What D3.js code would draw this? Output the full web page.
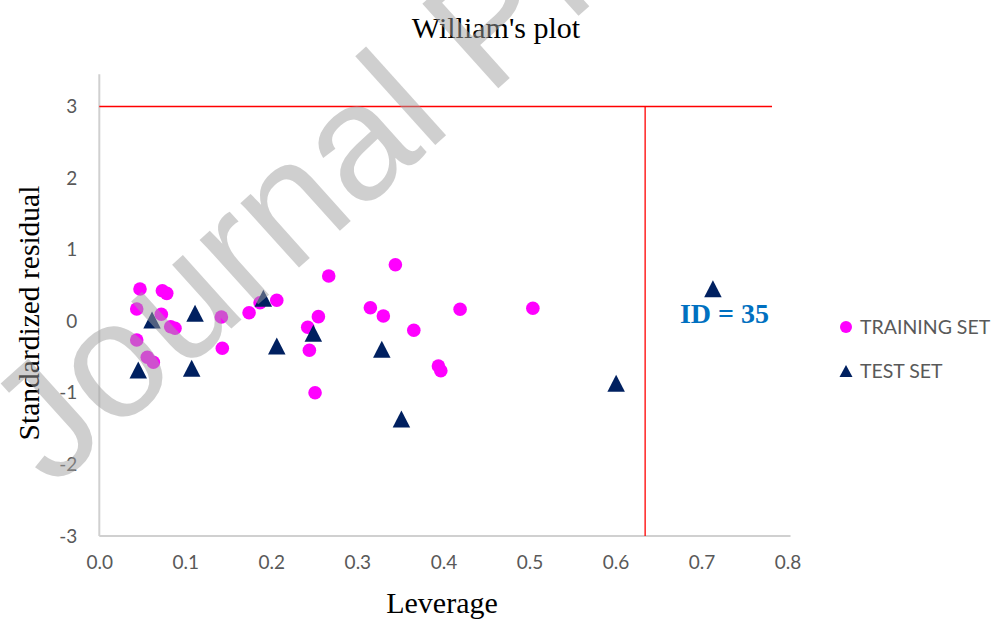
<!DOCTYPE html>
<html>
<head>
<meta charset="utf-8">
<script src="https://cdn.jsdelivr.net/npm/d3@7"></script>
<style>
  html, body { margin: 0; padding: 0; background: #fff; }
  svg { display: block; }
</style>
</head>
<body>
<svg id="chart" width="995" height="625"></svg>
<script>
// Leverage (h) and standardized residual for each compound
const trainLeverage = [0.0435, 0.0473, 0.0733, 0.0784, 0.0721, 0.0830, 0.0880, 0.1419, 0.0435, 0.1430,
                       0.0558, 0.0628, 0.2667, 0.1869, 0.2063, 0.1741, 0.2547, 0.2423, 0.2442, 0.2508,
                       0.3442, 0.3151, 0.3302, 0.3656, 0.3942, 0.3970, 0.4194, 0.5040];
const trainResidual = [0.171, 0.450, 0.427, 0.390, 0.097, -0.076, -0.098, 0.059, -0.262, -0.378,
                       -0.503, -0.573, 0.632, 0.259, 0.293, 0.119, 0.064, -0.084, -0.406, -0.998,
                       0.790, 0.189, 0.073, -0.126, -0.625, -0.691, 0.167, 0.181];
const testLeverage = [0.0613, 0.1113, 0.0453, 0.1074, 0.1907, 0.2488, 0.2063, 0.3284, 0.3512, 0.6008, 0.7133];
const testResidual = [0.017, 0.111, -0.681, -0.657, 0.321, -0.168, -0.346, -0.392, -1.365, -0.867, 0.455];

// Applicability domain limits
const warningLeverage = 0.6345;   // h*
const residualLimit = 3;
const limitLineEnd = 0.782;

const xTicks = [0, 0.1, 0.2, 0.3, 0.4, 0.5, 0.6, 0.7, 0.8];
const yTicks = [-3, -2, -1, 0, 1, 2, 3];
const seriesNames = ["TRAINING SET", "TEST SET"];
const outlierLabel = "ID = 35";
const outlierIndex = 10;

const train = trainLeverage.map((h, i) => ({ h, r: trainResidual[i] }));
const test = testLeverage.map((h, i) => ({ h, r: testResidual[i] }));

const svg = d3.select("#chart");
const serif = "'Liberation Serif', 'Times New Roman', serif";
const sans = "Lato, 'Open Sans', sans-serif";
const tickColor = "#595959";
const axisColor = "#d0d0d0";
const pink = "#ff00ff";
const navy = "#002060";

const x = d3.scaleLinear().domain([0, 0.8]).range([99.3, 787.5]);
const y = d3.scaleLinear().domain([-3, 3]).range([536, 106.5]);

// Title and axis titles
svg.append("text").attr("x", 496).attr("y", 38).attr("text-anchor", "middle")
  .attr("font-family", serif).attr("font-size", 30).attr("fill", "#000").text("William's plot");
svg.append("text").attr("transform", "translate(39,313) rotate(-90)").attr("text-anchor", "middle")
  .attr("font-family", serif).attr("font-size", 29.5).attr("fill", "#000").text("Standardized residual");
svg.append("text").attr("x", 442).attr("y", 613).attr("text-anchor", "middle")
  .attr("font-family", serif).attr("font-size", 30).attr("fill", "#000").text("Leverage");

// Axes (Excel-style labels use a plain hyphen for negatives)
const xAxis = d3.axisBottom(x).tickValues(xTicks).tickFormat(d3.format(".1f")).tickSize(0).tickPadding(20);
const gx = svg.append("g").attr("transform", `translate(0,${y(-3)})`).call(xAxis);
gx.select(".domain").attr("d", `M${x(0)},0H${x(0.8) + 3}`).attr("stroke", axisColor).attr("stroke-width", 2);
gx.selectAll("text").attr("font-family", sans).attr("font-size", 19).attr("fill", tickColor);

const yAxis = d3.axisLeft(y).tickValues(yTicks).tickFormat(d => String(d)).tickSize(0).tickPadding(22);
const gy = svg.append("g").attr("transform", `translate(${x(0)},0)`).call(yAxis);
gy.select(".domain").attr("d", `M0,${y(3.45)}V${y(-3)}`).attr("stroke", axisColor).attr("stroke-width", 2);
gy.selectAll("text").attr("font-family", sans).attr("font-size", 19).attr("fill", tickColor);

// Limit lines
svg.append("line").attr("x1", x(0)).attr("x2", x(limitLineEnd))
  .attr("y1", y(residualLimit)).attr("y2", y(residualLimit))
  .attr("stroke", "#ff0000").attr("stroke-width", 1.3);
svg.append("line").attr("x1", x(warningLeverage)).attr("x2", x(warningLeverage))
  .attr("y1", y(residualLimit)).attr("y2", y(-3))
  .attr("stroke", "#ff0000").attr("stroke-width", 1.3);

// Markers
const tri = (w, h) => `M0,${-h / 2}L${w / 2},${h / 2}L${-w / 2},${h / 2}Z`;

svg.append("g").selectAll("circle").data(train).join("circle")
  .attr("cx", d => x(d.h)).attr("cy", d => y(d.r)).attr("r", 6.8).attr("fill", pink);

svg.append("g").selectAll("path").data(test).join("path")
  .attr("transform", d => `translate(${x(d.h)},${y(d.r)})`)
  .attr("d", tri(17.5, 17)).attr("fill", navy);

// Outlier annotation
svg.append("text").attr("x", x(testLeverage[outlierIndex]) - 33).attr("y", 323)
  .attr("font-family", serif).attr("font-size", 28).attr("font-weight", "bold")
  .attr("fill", "#0070c0").text(outlierLabel);

// Legend
const legend = svg.append("g").attr("transform", "translate(846,0)");
legend.append("circle").attr("cx", 0).attr("cy", 327).attr("r", 6).attr("fill", pink);
legend.append("path").attr("transform", "translate(0,371)").attr("d", tri(13, 12)).attr("fill", navy);
legend.selectAll("text").data(seriesNames).join("text")
  .attr("x", 14).attr("y", (d, i) => 334 + i * 44)
  .attr("font-family", sans).attr("font-size", 19.5).attr("fill", tickColor).text(d => d);

// Watermark
svg.append("text").attr("transform", "translate(52,490) rotate(-42)")
  .attr("font-family", "'Liberation Sans', Arial, sans-serif").attr("font-size", 165)
  .attr("fill", "#a0a0a0").attr("fill-opacity", 0.5).text("Journal Pre-proof");
</script>
</body>
</html>
